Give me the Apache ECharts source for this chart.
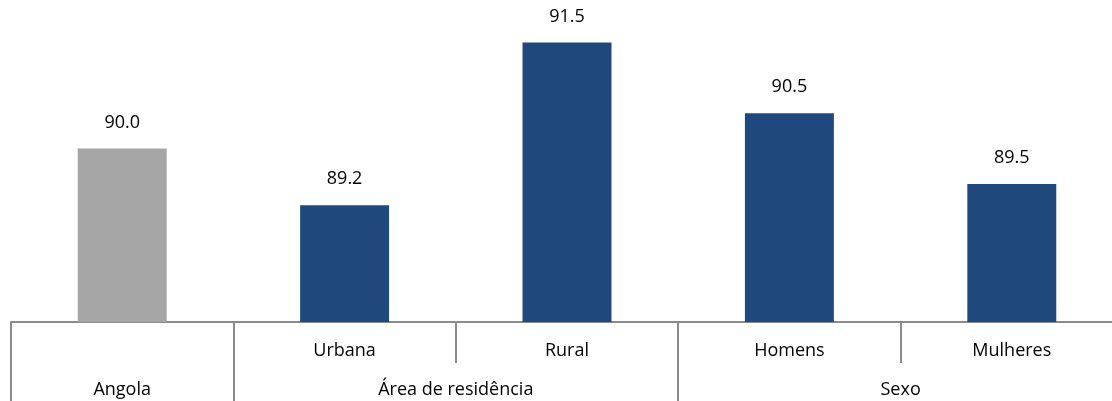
<!DOCTYPE html>
<html>
<head>
<meta charset="utf-8">
<script src="https://cdn.jsdelivr.net/npm/echarts@6/dist/echarts.min.js"></script>
<style>
  html, body { margin: 0; padding: 0; background: #ffffff; }
  #chart { width: 1112px; height: 401px; }
</style>
</head>
<body>
<div id="chart"></div>
<script>
// ---- data ----
const categories = ['Angola', 'Urbana', 'Rural', 'Homens', 'Mulheres'];
const values = [90.0, 89.2, 91.5, 90.5, 89.5];
const subLabels = ['', 'Urbana', 'Rural', 'Homens', 'Mulheres'];
const groupLabels = ['Angola', 'Área de residência', 'Sexo'];
const groupSpans = [1, 2, 2];

// ---- build helper point axes (2N+1 points: boundaries at even, centers at odd) ----
const N = categories.length;
const P = 2 * N + 1;
const subPoints = new Array(P).fill('');
subLabels.forEach((l, i) => { subPoints[2 * i + 1] = l; });
const groupPoints = new Array(P).fill('');
const groupBounds = new Set([0, 2 * N]);
let start = 0;
groupLabels.forEach((g, k) => {
  const n = groupSpans[k];
  groupPoints[2 * start + n] = g;
  groupBounds.add(2 * start);
  start += n;
});
const innerBounds = new Set();
for (let i = 1; i < N; i++) { if (!groupBounds.has(2 * i)) innerBounds.add(2 * i); }
const groupData = groupPoints.map((v, i) => ({ value: v === '' ? ' '.repeat(i + 1) : v }));
const subData = subPoints.map((v, i) => ({ value: v === '' ? ' '.repeat(i + 1) : v }));

const lineColor = '#8a8a8a';
const textColor = '#000';
const fontFamily = '"Open Sans", "Noto Sans", sans-serif';

const chart = echarts.init(document.getElementById('chart'), null, { renderer: 'canvas' });
chart.setOption({
  animation: false,
  grid: { left: 11, top: 0, width: 1112, bottom: 79, containLabel: false, outerBoundsMode: 'none' },
  yAxis: {
    type: 'value', min: 87.55, max: 92.1, show: false
  },
  xAxis: [
    {
      type: 'category', data: categories, boundaryGap: true,
      axisLine: { show: true, lineStyle: { color: lineColor, width: 2 } },
      axisTick: { show: false }, axisLabel: { show: false }
    },
    {
      type: 'category', data: subData, boundaryGap: false, position: 'bottom',
      axisLine: { show: false },
      axisTick: {
        show: true, length: 41, lineStyle: { color: lineColor, width: 2 },
        interval: (idx) => innerBounds.has(idx)
      },
      axisLabel: {
        interval: 0, margin: 20, color: textColor, fontSize: 18, fontFamily: fontFamily
      }
    },
    {
      type: 'category', data: groupData, boundaryGap: false, position: 'bottom',
      axisLine: { show: false },
      axisTick: {
        show: true, length: 85, lineStyle: { color: lineColor, width: 2 },
        interval: (idx) => groupBounds.has(idx)
      },
      axisLabel: {
        interval: 0, margin: 59, color: textColor, fontSize: 18, fontFamily: fontFamily
      }
    }
  ],
  series: [{
    type: 'bar',
    xAxisIndex: 0,
    data: values.map((v, i) => ({ value: v, itemStyle: { color: i === 0 ? '#a6a6a6' : '#1f497d' } })),
    barWidth: '40%',
    label: {
      show: true, position: 'top', distance: 17,
      formatter: (p) => p.value.toFixed(1),
      color: textColor, fontSize: 18, fontFamily: fontFamily
    }
  }]
});
</script>
</body>
</html>
